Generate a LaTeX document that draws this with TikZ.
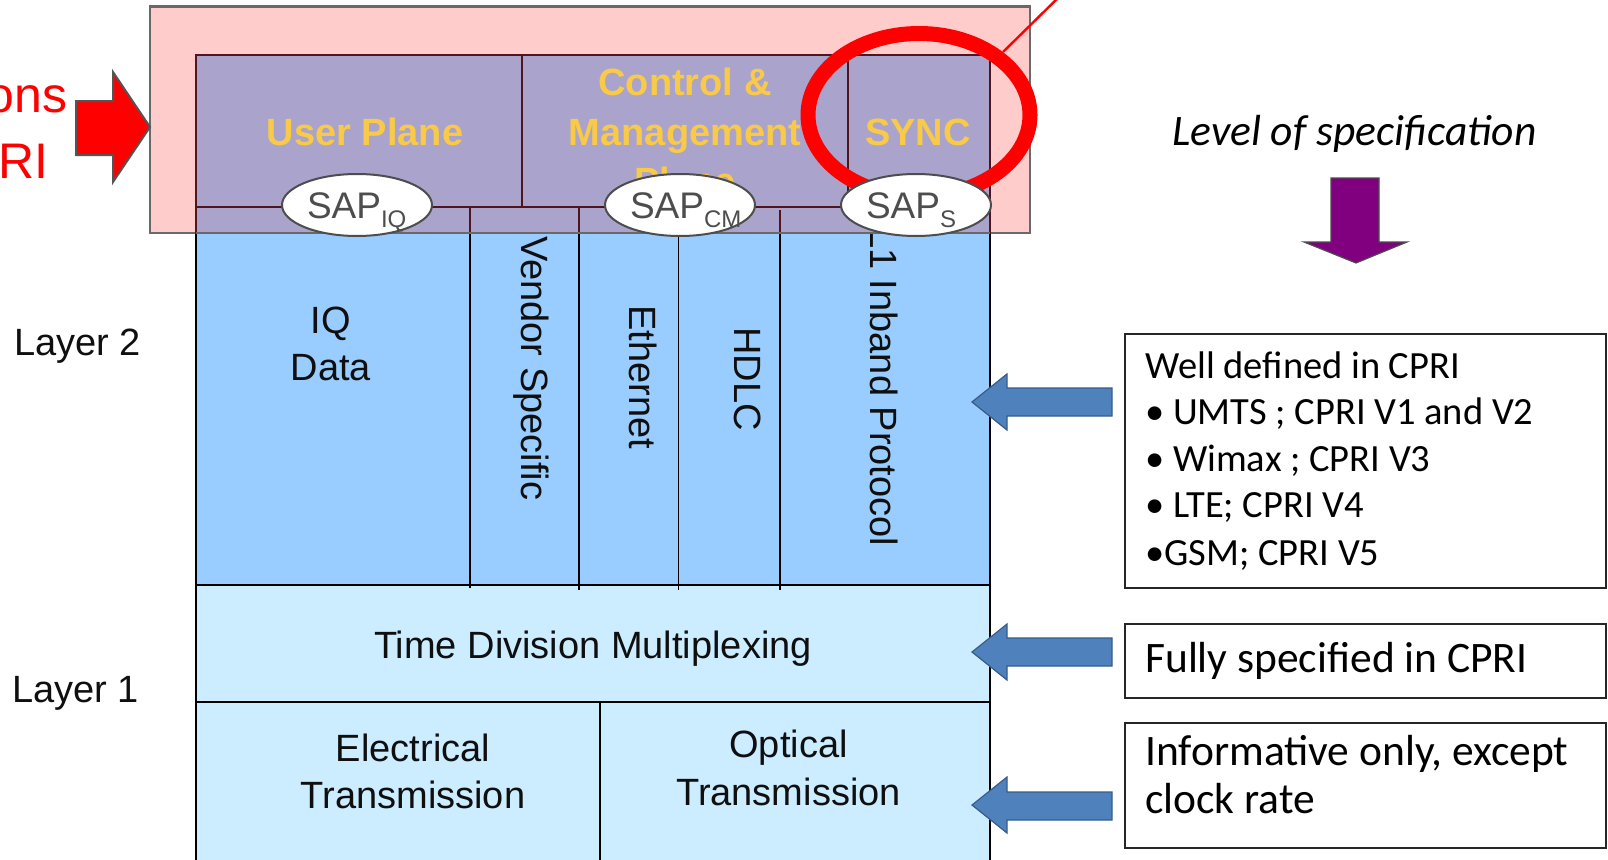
\documentclass[tikz,border=0pt]{standalone}
\usepackage{fontspec}
\setmainfont{Liberation Sans}
\newfontfamily\carl{Carlito}
\usetikzlibrary{shapes.geometric}
\definecolor{pinkbg}{RGB}{255,204,204}
\definecolor{purplebg}{RGB}{170,163,204}
\definecolor{bluebg}{RGB}{153,204,255}
\definecolor{lightbg}{RGB}{204,236,255}
\definecolor{goldc}{RGB}{248,202,72}
\definecolor{maroonln}{RGB}{80,20,30}
\definecolor{grayln}{RGB}{105,105,105}
\definecolor{sapgray}{RGB}{77,77,77}
\definecolor{arrowblue}{RGB}{79,129,189}
\definecolor{arrowblueln}{RGB}{56,93,138}
\definecolor{specpurple}{RGB}{128,0,128}
\definecolor{txtblack}{RGB}{15,15,15}
\begin{document}
\begin{tikzpicture}[x=1pt,y=-1pt,
  txt/.style={inner sep=0pt, text=txtblack, font=\fontsize{38}{46}\selectfont},
  goldtxt/.style={inner sep=0pt, text=goldc, font=\fontsize{38}{46}\selectfont\bfseries, anchor=base},
  vtxt/.style={txt, rotate=-90, anchor=base west},
  caltxt/.style={inner sep=0pt, text=black, anchor=base west, font=\carl\fontsize{38.5}{46}\selectfont},
  calbig/.style={inner sep=0pt, text=black, anchor=base west, font=\carl\fontsize{43.5}{52}\selectfont},
  sap/.style={ellipse, draw=sapgray, line width=2pt, fill=white, minimum width=150pt, minimum height=62pt,
    inner sep=0pt, text height=30pt, text depth=4pt, text=sapgray, font=\fontsize{37}{44}\selectfont},
  stackln/.style={draw=black, line width=1.6pt},
  purpln/.style={draw=maroonln, line width=1.4pt},
  bluearrow/.style={fill=arrowblue, draw=arrowblueln, line width=1.2pt, line join=miter},
  infobox/.style={draw=black!85, line width=1.8pt, anchor=north west, inner sep=0pt}
]
\useasboundingbox (0,0) rectangle (1608,859);
\fill[white] (0,0) rectangle (1608,859);

% ---------- Layer 1 ----------
\fill[lightbg] (196,702) rectangle (990,880);
\draw[stackln] (196,880) -- (196,702) -- (990,702) -- (990,880);
\draw[stackln] (600,702) -- (600,880);
\filldraw[fill=lightbg, stackln] (196,585) rectangle (990,702);

% ---------- Layer 2 ----------
\filldraw[fill=bluebg, stackln] (196,233) rectangle (990,585);
\draw[stackln] (470,233) -- (470,588);
\draw[stackln] (579,233) -- (579,590);
\draw[stackln] (678.6,233) -- (678.6,590);
\draw[stackln] (780,233) -- (780,590);

\node[txt, anchor=base] (iqa) at (331,333) {IQ};
\node[txt, anchor=base] (iqb) at (331,380) {Data};
\node[vtxt] (vendor) at (521,236) {Vendor Specific};
\node[vtxt] (ether) at (629,305) {Ethernet};
\node[vtxt] (hdlc) at (734,327) {HDLC};
\node[vtxt] (inband) at (870,227) {L1 Inband Protocol};

\node[txt, anchor=base] (tdm) at (593,658) {Time Division Multiplexing};
\node[txt, anchor=base] (elA) at (413,761.5) {Electrical};
\node[txt, anchor=base] (elB) at (413,808) {Transmission};
\node[txt, anchor=base] (opA) at (788.5,757) {Optical};
\node[txt, anchor=base] (opB) at (788.5,805) {Transmission};

\node[txt, anchor=base west] (l2) at (14,355) {Layer 2};
\node[txt, anchor=base west] (l1) at (12,702.5) {Layer 1};

% ---------- upper (pink / purple) block ----------
\filldraw[fill=pinkbg, draw=grayln, line width=2.6pt] (150,6.5) rectangle (1030,233);
\filldraw[fill=purplebg, purpln] (196,55) rectangle (990,207);
\filldraw[fill=purplebg, purpln] (196,207) rectangle (990,233);
\draw[purpln] (522,55) -- (522,207);
\draw[purpln] (848,55) -- (848,207);
\draw[purpln] (470,207) -- (470,233);
\draw[purpln] (579,207) -- (579,233);
\draw[purpln] (780,210) -- (780,233);
\draw[grayln, line width=2pt] (196,233) -- (990,233);

\node[goldtxt] (user) at (365,145) {User Plane};
\node[goldtxt] (ctlA) at (685,95) {Control \&};
\node[goldtxt] (ctlB) at (685,145) {Management};
\node[goldtxt] (ctlC) at (685,194) {Plane};
\node[goldtxt] (sync) at (918,145) {SYNC};

% red ring and pointer line
\draw[red, line width=15pt] (919,115) ellipse [x radius=111pt, y radius=81.5pt];
\coordinate (ringtip) at (1003,52);
\coordinate (lineend) at (1062,-6);
\draw[red, line width=2.4pt] (ringtip) -- (lineend);

% SAP ellipses
\node[sap] (sapiq) at (357,205) {\makebox[0pt][l]{\hspace*{-50pt}SAP\raisebox{-9pt}{\fontsize{24}{28}\selectfont IQ}}};
\node[sap] (sapcm) at (680,205) {\makebox[0pt][l]{\hspace*{-50pt}SAP\raisebox{-9pt}{\fontsize{24}{28}\selectfont CM}}};
\node[sap] (saps) at (916,205) {\makebox[0pt][l]{\hspace*{-50pt}SAP\raisebox{-9pt}{\fontsize{24}{28}\selectfont S}}};

% ---------- left red arrow and text ----------
\filldraw[fill=red, draw=grayln!80!black, line width=2pt, line join=miter]
  (76,101) -- (113,101) -- (113,72) -- (150,127) -- (113,182) -- (113,155) -- (76,155) -- cycle;
\node[inner sep=0pt, anchor=base east, text=red, font=\fontsize{50}{60}\selectfont] (ons) at (67.5,112) {ons};
\node[inner sep=0pt, anchor=base east, text=red, font=\fontsize{50}{60}\selectfont] (ri) at (49,178) {RI};

% ---------- right side ----------
\node[inner sep=0pt, anchor=base west, text=black, font=\carl\itshape\fontsize{43.5}{52}\selectfont] (level) at (1172,145) {Level of specification};
\filldraw[fill=specpurple, draw=black!70, line width=1.2pt, line join=miter]
  (1331,178) -- (1379,178) -- (1379,242) -- (1407,242) -- (1356,263) -- (1304,242) -- (1331,242) -- cycle;

\node[infobox, minimum width=481pt, minimum height=254pt] (box1) at (1124,333) {};
\node[caltxt] (w1) at (1145,378) {Well defined in CPRI};
\node[caltxt] (w2) at (1145,424) {• UMTS ; CPRI V1 and V2};
\node[caltxt] (w3) at (1145,471.5) {• Wimax ; CPRI V3};
\node[caltxt] (w4) at (1145,517.5) {• LTE; CPRI V4};
\node[caltxt] (w5) at (1145,565) {•GSM; CPRI V5};

\node[infobox, minimum width=481pt, minimum height=74pt] (box2) at (1124,623) {};
\node[calbig] (f1) at (1145,672.7) {Fully specified in CPRI};

\node[infobox, minimum width=481pt, minimum height=125pt] (box3) at (1124,721.7) {};
\node[calbig] (i1) at (1145,765) {Informative only, except};
\node[calbig] (i2) at (1145,813) {clock rate};

% blue arrows
\filldraw[bluearrow] (1112,388) -- (1007,388) -- (1007,374) -- (972,402) -- (1007,430) -- (1007,416) -- (1112,416) -- cycle;
\filldraw[bluearrow] (1112,638) -- (1007,638) -- (1007,624) -- (972,652) -- (1007,680) -- (1007,666) -- (1112,666) -- cycle;
\filldraw[bluearrow] (1112,792) -- (1007,792) -- (1007,777) -- (972,805) -- (1007,833) -- (1007,820) -- (1112,820) -- cycle;
\end{tikzpicture}
\end{document}
